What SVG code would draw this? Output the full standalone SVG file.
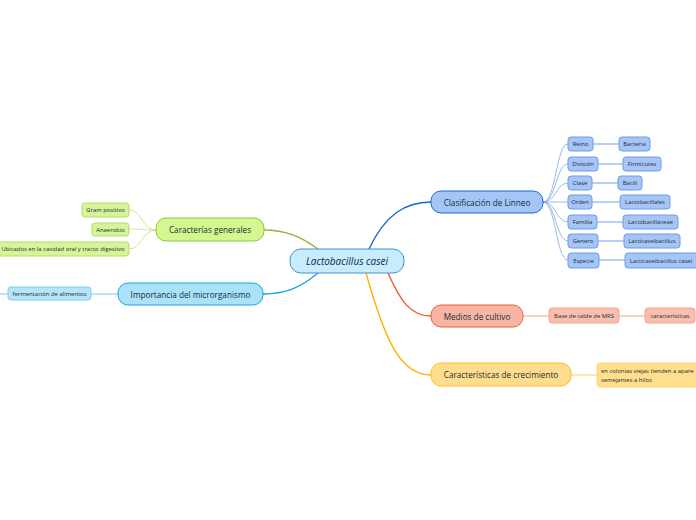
<svg xmlns="http://www.w3.org/2000/svg" width="696" height="520" viewBox="0 0 696 520">
<style>
text{font-family:"Open Sans","Noto Sans","Liberation Sans",sans-serif;dominant-baseline:central;text-anchor:middle;fill:#13303c}
.main{font-size:8.2px;font-weight:500}
.sm{font-size:5.9px;fill:#1a2a36}
.lb{fill:#a6c5f6;stroke:#6d9de8;stroke-width:1}
.gr{fill:#d6f59a;stroke:#b5dd64;stroke-width:1}
.rd{fill:#f9bfae;stroke:#f3a38f;stroke-width:1}
</style>
<rect width="696" height="520" fill="#fff"/>
<g id="connectors" fill="none">
<path d="M369,249 C385,215 405,202 431,202" stroke="#1a66d6" stroke-width="1.4"/>
<path d="M318,249 C300,236 285,230 264,230" stroke="#8ab833" stroke-width="1.4"/>
<path d="M318,273 C300,288 285,294 263,294" stroke="#1aa7e0" stroke-width="1.4"/>
<path d="M388,273 C400,300 410,316 431,316" stroke="#f05a30" stroke-width="1.4"/>
<path d="M366,273 C385,340 400,375 431,375" stroke="#ffb300" stroke-width="1.4"/>
<g stroke="#7fa7e8" stroke-width="0.8">
<path d="M543,202 C556,202 556,144 568,144"/>
<path d="M543,202 C556,202 556,164 568,164"/>
<path d="M543,202 C556,202 556,183 568,183"/>
<path d="M543,202 C556,202 556,202 568,202"/>
<path d="M543,202 C556,202 556,222 568,222"/>
<path d="M543,202 C556,202 556,241 568,241"/>
<path d="M543,202 C556,202 556,260 568,260"/>
</g>
<g stroke="#a8c5f3" stroke-width="1.6">
<path d="M593,144 H619"/>
<path d="M598,164 H623"/>
<path d="M592,183 H618"/>
<path d="M592,202 H620"/>
<path d="M597,222 H623"/>
<path d="M598,241 H624"/>
<path d="M599,260 H625"/>
</g>
<g stroke="#c5e07f" stroke-width="0.8">
<path d="M156,230 C142,230 142,210 129,210"/>
<path d="M156,230 C142,230 142,229 129,229"/>
<path d="M156,230 C142,230 142,249 129,249"/>
</g>
<path d="M118,294 H91" stroke="#8fd3f0" stroke-width="1.2"/>
<path d="M8,294 H0" stroke="#8fd3f0" stroke-width="1.2"/>
<path d="M523,316 H549" stroke="#f7c3b5" stroke-width="1.6"/>
<path d="M619,316 H645" stroke="#f7c3b5" stroke-width="1.6"/>
<path d="M571,375 H597" stroke="#fde3a0" stroke-width="1.6"/>
</g>
<g id="central">
<rect x="290" y="249" width="114" height="24" rx="11" fill="#c7ecfd" stroke="#3f93cf" stroke-width="1"/>
<text x="347" y="261" font-size="10" font-style="italic" style="fill:#10284a">Lactobacillus casei</text>
</g>
<g id="linneo">
<rect x="431" y="191" width="112" height="22" rx="10" fill="#a3c6f7" stroke="#1f67d4" stroke-width="1"/>
<text class="main" x="487" y="202">Clasificación de Linneo</text>
</g>
<g id="reino"><rect class="lb" x="568" y="137" width="25" height="14" rx="3"/><text class="sm" x="580.5" y="144">Reino</text></g>
<g id="bacteria"><rect class="lb" x="619" y="137" width="31" height="14" rx="3"/><text class="sm" x="634.5" y="144">Bacteria</text></g>
<g id="division"><rect class="lb" x="568" y="157" width="30" height="14" rx="3"/><text class="sm" x="583" y="164">División</text></g>
<g id="firmicutes"><rect class="lb" x="623" y="157" width="38" height="14" rx="3"/><text class="sm" x="642" y="164">Firmicutes</text></g>
<g id="clase"><rect class="lb" x="568" y="176" width="24" height="14" rx="3"/><text class="sm" x="580" y="183">Clase</text></g>
<g id="bacili"><rect class="lb" x="618" y="176" width="24" height="14" rx="3"/><text class="sm" x="630" y="183">Bacili</text></g>
<g id="orden"><rect class="lb" x="568" y="195" width="24" height="14" rx="3"/><text class="sm" x="580" y="202">Orden</text></g>
<g id="lactobacillales"><rect class="lb" x="620" y="195" width="50" height="14" rx="3"/><text class="sm" x="645" y="202">Lactobacillales</text></g>
<g id="familia"><rect class="lb" x="568" y="215" width="29" height="14" rx="3"/><text class="sm" x="582.5" y="222">Familia</text></g>
<g id="lactobacillaceae"><rect class="lb" x="623" y="215" width="55" height="14" rx="3"/><text class="sm" x="650.5" y="222">Lactobacillaceae</text></g>
<g id="genero"><rect class="lb" x="568" y="234" width="30" height="14" rx="3"/><text class="sm" x="583" y="241">Genero</text></g>
<g id="lacticaseibacillus"><rect class="lb" x="624" y="234" width="56" height="14" rx="3"/><text class="sm" x="652" y="241">Lacticaseibacillus</text></g>
<g id="especie"><rect class="lb" x="568" y="253" width="31" height="15" rx="3"/><text class="sm" x="583.5" y="260.5">Especie</text></g>
<g id="lcasei"><rect class="lb" x="625" y="253" width="74" height="15" rx="3"/><text class="sm" x="661" y="260.5">Lacticaseibacillus casei</text></g>
<g id="caracterias">
<rect x="156" y="218" width="108" height="23" rx="10" fill="#d4f78f" stroke="#8dc63f" stroke-width="1"/>
<text class="main" x="210" y="229.5">Caracterías generales</text>
</g>
<g id="gram"><rect class="gr" x="82" y="203" width="47" height="14" rx="3"/><text class="sm" x="105.5" y="210">Gram positivo</text></g>
<g id="anaerobio"><rect class="gr" x="92" y="223" width="37" height="13" rx="3"/><text class="sm" x="110.5" y="229.5">Anaerobio</text></g>
<g id="ubicados"><rect class="gr" x="-6" y="242" width="135" height="14" rx="3"/><text class="sm" x="63" y="249">Ubicados en la cavidad oral y tracto digestivo</text></g>
<g id="importancia">
<rect x="118" y="283" width="145" height="22" rx="10" fill="#a9e2fa" stroke="#1da4e0" stroke-width="1"/>
<text class="main" x="190.5" y="294">Importancia del microrganismo</text>
</g>
<g id="fermentacion"><rect x="8" y="287" width="83" height="13" rx="3" fill="#b5e5f8" stroke="#7fcdee" stroke-width="1"/><text class="sm" x="49.5" y="293.5">fermentación de alimentos</text></g>
<g id="medios">
<rect x="431" y="305" width="92" height="22" rx="10" fill="#f9b5a3" stroke="#ee5f3c" stroke-width="1"/>
<text class="main" x="477" y="316">Medios de cultivo</text>
</g>
<g id="base"><rect class="rd" x="549" y="308" width="70" height="15" rx="3"/><text class="sm" x="584" y="315.5">Base de calde de MRS</text></g>
<g id="caracteristicas"><rect class="rd" x="645" y="308" width="50" height="15" rx="3"/><text class="sm" x="670" y="315.5">características</text></g>
<g id="crecimiento">
<rect x="431" y="363" width="140" height="23" rx="10" fill="#ffdd8a" stroke="#fbbf2a" stroke-width="1"/>
<text class="main" x="501" y="374.5">Características de crecimiento</text>
</g>
<g id="colonias"><rect x="597" y="363" width="110" height="24" rx="3" fill="#ffde8c" stroke="#fdd57a" stroke-width="1"/>
<text class="sm" x="601" y="370.5" style="text-anchor:start">en colonias viejas tienden a apare</text>
<text class="sm" x="601" y="379.5" style="text-anchor:start">semejantes a hilos</text></g>
</svg>
